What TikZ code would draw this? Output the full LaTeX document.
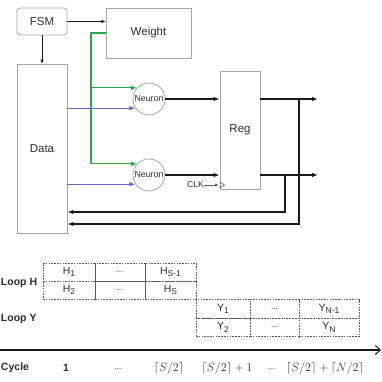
\documentclass[tikz,border=0pt]{standalone}
\usepackage{fontspec}
\setmainfont{Liberation Sans}
\usetikzlibrary{arrows.meta}
\definecolor{boxgray}{RGB}{165,165,165}
\definecolor{gline}{RGB}{40,170,75}
\definecolor{bline}{RGB}{105,100,200}
\definecolor{txt}{RGB}{45,45,45}
\definecolor{bk}{RGB}{25,25,25}
\definecolor{dgray}{RGB}{90,90,90}
\newcommand{\sub}[2]{#1\raisebox{-0.45ex}{\fontsize{8.5}{9}\selectfont #2}}
\begin{document}
\begin{tikzpicture}[x=1pt,y=-1pt,
  blk/.style={draw=boxgray, line width=0.8pt, inner sep=0pt, text=txt, font=\fontsize{11.5}{13}\selectfont},
  neu/.style={circle, draw=boxgray, line width=0.8pt, inner sep=0pt, minimum size=32pt, text=txt, font=\fontsize{8.8}{10}\selectfont},
  thin/.style={draw=bk, line width=0.6pt, -{Latex[length=4pt,width=3.5pt]}},
  gl/.style={draw=gline, line width=1.3pt, -{Latex[length=6pt,width=5pt]}},
  bl/.style={draw=bline, line width=0.9pt, -{Latex[length=6pt,width=4.5pt]}},
  bkl/.style={draw=bk, line width=1.4pt, -{Latex[length=6pt,width=4.5pt]}},
  cell/.style={draw=dgray, line width=0.8pt, dash pattern=on 1.6pt off 1.2pt, inner sep=0pt, text=txt, font=\fontsize{10.5}{12}\selectfont},
  lbl/.style={text=txt, inner sep=0pt, font=\fontsize{10.5}{12}\selectfont\bfseries},
  mth/.style={text=txt, inner sep=0pt, font=\fontsize{12.5}{14}\selectfont},
  dots/.style={text=txt, inner sep=0pt, font=\fontsize{8}{10}\selectfont}
]
\useasboundingbox (0,0) rectangle (382,381);

% architecture
\node[blk, rounded corners=3pt, minimum width=50pt, minimum height=27pt] (fsm) at (42,21.5) {FSM};
\node[blk, minimum width=85pt, minimum height=50pt] (weight) at (148.5,33) {Weight};
\node[blk, minimum width=50pt, minimum height=169pt] (data) at (42,148.5) {Data};
\node[neu] (n1) at (149,99) {Neuron};
\node[neu] (n2) at (149,175) {Neuron};
\node[blk, minimum width=40pt, minimum height=118pt] (reg) at (240,130) {Reg};
\node[text=txt, inner sep=0pt, font=\fontsize{8.6}{10}\selectfont, anchor=east] (clk) at (204,185) {CLK};

\coordinate (gx) at (91,0);
\coordinate (o1) at (318,0);
\coordinate (j1) at (299,0);
\coordinate (j2) at (285,0);
\coordinate (r1) at (0,224);
\coordinate (r2) at (0,212);
\coordinate (ck) at (0,185);

\draw[thin] (fsm.east) -- (fsm.east -| weight.west);
\draw[thin] (fsm.south) -- (data.north);

\draw[gl] (weight.west) -| (gx |- n2.137) -- (n2.137);
\draw[gl] (gx |- n1.137) -- (n1.137);
\draw[bl] (data.east |- n1.214) -- (n1.214);
\draw[bl] (data.east |- n2.214) -- (n2.214);

\draw[bkl] (n1.east) -- (n1.east -| reg.west);
\draw[bkl] (n2.east) -- (n2.east -| reg.west);
\draw[bkl] (n1.east -| reg.east) -- (n1.east -| o1);
\draw[bkl] (n2.east -| reg.east) -- (n2.east -| o1);
\draw[bkl] (j2 |- n2.east) -- (j2 |- r2) -- (r2 -| data.east);
\draw[bkl] (j1 |- n1.east) -- (j1 |- r1) -- (r1 -| data.east);

\draw[draw=dgray, line width=0.6pt, -{Latex[length=3.5pt,width=3pt]}] (clk.east) -- ([xshift=-1pt]ck -| reg.west);
\draw[draw=dgray, line width=0.6pt] ([yshift=-3pt]ck -| reg.west) -- ([xshift=5pt]ck -| reg.west) -- ([yshift=3pt]ck -| reg.west);

% timing table
\node[cell, minimum width=52pt, minimum height=18pt] (h1) at (69,272) {\sub{H}{1}};
\node[cell, minimum width=50pt, minimum height=18pt] (h2) at (120,272) {\fontsize{8}{10}\selectfont ...};
\node[cell, minimum width=51pt, minimum height=18pt] (h3) at (170.5,272) {\sub{H}{S-1}};
\node[cell, minimum width=52pt, minimum height=18pt] (h4) at (69,290) {\sub{H}{2}};
\node[cell, minimum width=50pt, minimum height=18pt] (h5) at (120,290) {\fontsize{8}{10}\selectfont ...};
\node[cell, minimum width=51pt, minimum height=18pt] (h6) at (170.5,290) {\sub{H}{S}};

\node[cell, minimum width=54pt, minimum height=18.5pt] (y1) at (223,309) {\sub{Y}{1}};
\node[cell, minimum width=49pt, minimum height=18.5pt] (y2) at (274.5,309) {\fontsize{8}{10}\selectfont ...};
\node[cell, minimum width=60pt, minimum height=18.5pt] (y3) at (329,309) {\sub{Y}{N-1}};
\node[cell, minimum width=54pt, minimum height=18.5pt] (y4) at (223,327.5) {\sub{Y}{2}};
\node[cell, minimum width=49pt, minimum height=18.5pt] (y5) at (274.5,327.5) {\fontsize{8}{10}\selectfont ...};
\node[cell, minimum width=60pt, minimum height=18.5pt] (y6) at (329,327.5) {\sub{Y}{N}};
\draw[draw=dgray, line width=0.8pt, dash pattern=on 1.6pt off 1.2pt] (h6.south east) -- (y1.north west);

\node[lbl, anchor=west] (lh) at (0.8,283) {Loop H};
\node[lbl, anchor=west] (ly) at (0.8,319) {Loop Y};

% axis
\coordinate (ax0) at (0,350);
\coordinate (ax1) at (381,350);
\draw[draw=bk, line width=1.8pt, -{Straight Barb[length=5pt,width=9pt,line width=1pt]}] (ax0) -- (ax1);

\node[lbl, anchor=west] (cyc) at (0.8,368) {Cycle};
\node[lbl] (c1) at (66,368) {1};
\node[dots] (c2) at (118,369) {...};
\node[mth] (c3) at (169,368) {$\lceil S/2\rceil$};
\node[mth] (c4) at (227,368) {$\lceil S/2\rceil+1$};
\node[dots] (c5) at (272,369) {...};
\node[mth] (c6) at (325,368) {$\lceil S/2\rceil+\lceil N/2\rceil$};
\end{tikzpicture}
\end{document}
